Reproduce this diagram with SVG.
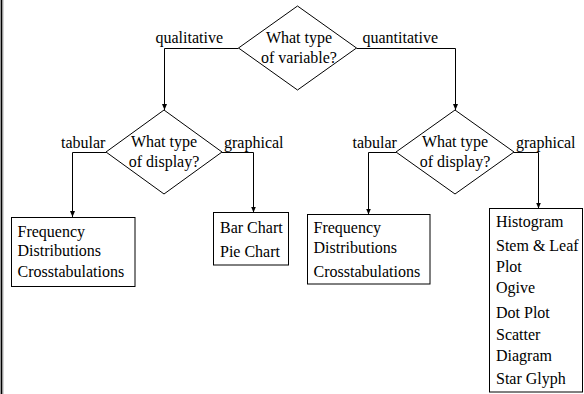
<svg xmlns="http://www.w3.org/2000/svg" width="584" height="394" viewBox="0 0 584 394">
<defs>
<style>
text{font-family:"Liberation Serif","Times New Roman",serif;font-size:16px;fill:#000}
.c{text-anchor:middle}
.shape{fill:#fff;stroke:#000;stroke-width:1}
.conn{fill:none;stroke:#000;stroke-width:1}
</style>
<marker id="arr" viewBox="0 0 6 6" refX="6" refY="3" markerWidth="6" markerHeight="6" markerUnits="userSpaceOnUse" orient="auto">
<path d="M0,0.5 L6,3 L0,5.5 z" fill="#000"/>
</marker>
</defs>
<rect width="584" height="394" fill="#fff"/>
<rect x="0.6" y="0" width="1.8" height="394" fill="#000"/>
<rect x="2.4" y="0" width="1" height="394" fill="#999"/>

<g id="connectors">
<path class="conn" d="M238.5 48.5 H164.5 V110" marker-end="url(#arr)"/>
<path class="conn" d="M356.5 48.5 H455.5 V110" marker-end="url(#arr)"/>
<path class="conn" d="M106 152.5 H72.5 V217" marker-end="url(#arr)"/>
<path class="conn" d="M222 152.5 H253.5 V212.5" marker-end="url(#arr)"/>
<path class="conn" d="M396 152.5 H368.5 V214.5" marker-end="url(#arr)"/>
<path class="conn" d="M514 152.5 H538.5 V208.5" marker-end="url(#arr)"/>
<text x="155.5" y="43">qualitative</text>
<text x="362.5" y="43">quantitative</text>
<text x="61" y="148">tabular</text>
<text x="224" y="148">graphical</text>
<text x="352.5" y="148">tabular</text>
<text x="516" y="148">graphical</text>
</g>

<g id="q-variable">
<polygon class="shape" points="297.5,6 356.5,48 297.5,90 238.5,48"/>
<text class="c" x="299" y="42.7">What type</text>
<text class="c" x="299" y="62.7">of variable?</text>
</g>

<g id="q-display-left">
<polygon class="shape" points="164,110 222,152 164,194 106,152"/>
<text class="c" x="164" y="147">What type</text>
<text class="c" x="164" y="167">of display?</text>
</g>

<g id="q-display-right">
<polygon class="shape" points="455,110 514,152 455,194 396,152"/>
<text class="c" x="455" y="147">What type</text>
<text class="c" x="455" y="167">of display?</text>
</g>

<g id="qual-tabular">
<rect class="shape" x="11.5" y="217.5" width="123.5" height="69"/>
<text x="17.5" y="237.3">Frequency</text>
<text x="17.5" y="256">Distributions</text>
<text x="17.5" y="277">Crosstabulations</text>
</g>

<g id="qual-graphical">
<rect class="shape" x="213.5" y="212.5" width="75" height="52.5"/>
<text x="220" y="233.3">Bar Chart</text>
<text x="220" y="256.5">Pie Chart</text>
</g>

<g id="quant-tabular">
<rect class="shape" x="307.5" y="214.5" width="122.5" height="69.5"/>
<text x="313.5" y="233.3">Frequency</text>
<text x="313.5" y="252.7">Distributions</text>
<text x="313.5" y="276.5">Crosstabulations</text>
</g>

<g id="quant-graphical">
<rect class="shape" x="489.5" y="208.5" width="93" height="183.5"/>
<text x="496" y="227.3">Histogram</text>
<text x="496" y="251">Stem &amp; Leaf</text>
<text x="496" y="271.5">Plot</text>
<text x="496" y="293">Ogive</text>
<text x="496" y="318">Dot Plot</text>
<text x="496" y="339.5">Scatter</text>
<text x="496" y="361">Diagram</text>
<text x="496" y="384">Star Glyph</text>
</g>
</svg>
